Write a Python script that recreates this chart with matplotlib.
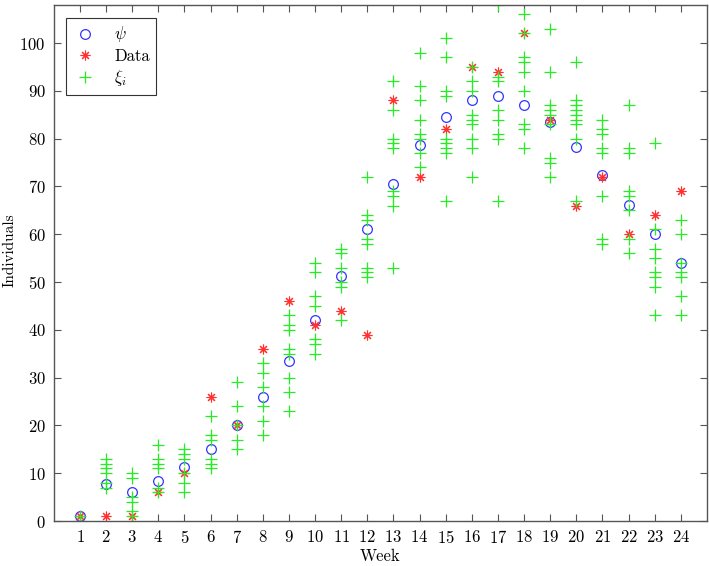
import numpy as np
import matplotlib
matplotlib.use("Agg")
import matplotlib.pyplot as plt

# weeks and values
weeks = list(range(1, 25))
psi = [1.0, 7.7, 6.1, 8.3, 11.2, 15.0, 20.0, 26.0, 33.4, 42.0, 51.3, 61.1,
       70.5, 78.7, 84.6, 88.1, 88.9, 87.1, 83.5, 78.3, 72.3, 66.1, 60.0, 53.9]
data = [1, 1, 1, 6, 10, 26, 20, 36, 46, 41, 44, 39,
        88, 72, 82, 95, 94, 102, 84, 66, 72, 60, 64, 69]
xi = [
    [0, 1],
    [13, 12, 11, 10, 8, 7],
    [10, 9, 5, 4, 2, 1],
    [16, 13, 12, 11, 7, 6],
    [15, 14, 13, 10, 8, 6],
    [22, 18, 17, 13, 12, 11],
    [29, 24, 20, 17, 15],
    [33, 31, 28, 24, 21, 18],
    [43, 41, 40, 36, 35, 30, 27, 23],
    [54, 52, 47, 45, 38, 37, 35],
    [57, 56, 53, 50, 49, 42],
    [72, 64, 63, 59, 58, 53, 52, 51],
    [92, 86, 80, 79, 78, 69, 68, 66, 53],
    [98, 91, 88, 84, 81, 80, 77, 74],
    [101, 97, 90, 89, 80, 79, 78, 77, 67],
    [95, 92, 90, 85, 84, 83, 80, 78, 72],
    [108, 93, 92, 86, 84, 81, 80, 67],
    [106, 102, 97, 96, 94, 90, 83, 82, 78],
    [103, 94, 87, 86, 85, 83, 76, 75, 72],
    [96, 88, 87, 86, 85, 84, 83, 80, 67],
    [84, 82, 81, 78, 77, 68, 59, 58],
    [87, 78, 77, 69, 68, 65, 59, 56],
    [79, 61, 57, 55, 52, 51, 49, 43],
    [63, 60, 54, 52, 51, 47, 43],
]

plt.rcParams["font.family"] = "serif"
plt.rcParams["font.serif"] = ["cmr10"]
plt.rcParams["mathtext.fontset"] = "cm"
plt.rcParams["axes.formatter.use_mathtext"] = True

fig = plt.figure(figsize=(7.09, 5.66), dpi=100)
ax = fig.add_axes([0.076, 0.0795, 0.921, 0.912])

xs = np.concatenate([[w] * len(v) for w, v in zip(weeks, xi)])
ys = np.concatenate(xi)

ax.plot(weeks, psi, "o", ls="none", mfc="none", mec="#3333ff", ms=7, mew=0.9, label=r"$\psi$")
ax.plot(weeks, data, ls="none", marker=(8, 2, 0), color="#ff3030", ms=7, mew=0.8, label="Data")
ax.plot(xs, ys, "+", ls="none", color="#22ee22", ms=9, mew=0.9, label=r"$\xi_i$")

ax.set_xlim(0, 25)
ax.set_ylim(0, 108)
ax.set_xticks(weeks)
ax.set_yticks(range(0, 101, 10))
ax.tick_params(direction="in", top=True, right=True, length=5, color="#555555",
               labelsize=12, pad=6)
for s in ax.spines.values():
    s.set_color("#555555")
    s.set_linewidth(1.0)

ax.set_xlabel("Week", fontsize=12, labelpad=2)
ax.set_ylabel("Individuals", fontsize=11)
ax.yaxis.set_label_coords(-0.057, 0.525)

leg = ax.legend(loc="upper left", fancybox=False, edgecolor="#333333", framealpha=1,
                fontsize=12, borderpad=0.4, handlelength=1.5, handletextpad=1.0,
                labelspacing=0.25, bbox_to_anchor=(0.018, 0.975), borderaxespad=0)
leg.get_frame().set_linewidth(0.8)

fig.savefig("out.png", dpi=100)
